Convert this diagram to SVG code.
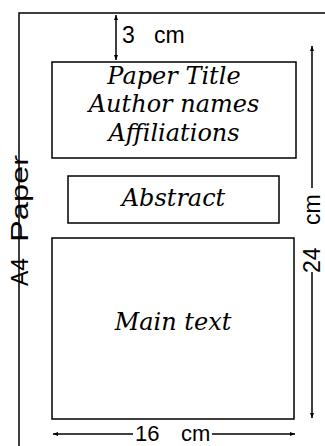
<svg xmlns="http://www.w3.org/2000/svg" width="325" height="446" viewBox="0 0 325 446">
<defs>
<marker id="ah" viewBox="0 0 10 10" refX="10" refY="5" markerWidth="5" markerHeight="5" orient="auto-start-reverse" markerUnits="userSpaceOnUse">
<path d="M0,1 L10,5 L0,9 Z" fill="#000"/>
</marker>
<style>
.ln{fill:none;stroke:#000;stroke-width:1.5}
.box{fill:#fff;stroke:#000;stroke-width:1.5}
.ser{font-family:"DejaVu Serif",serif;font-style:italic;font-size:24px;fill:#000;text-anchor:middle}
.san{font-family:"Liberation Sans",Arial,sans-serif;font-size:23px;fill:#000}
</style>
</defs>
<g id="page">
<path class="ln" d="M19,446 V13 H325"/>
<text class="san" transform="translate(28,286) rotate(-90)"><tspan x="0">A4</tspan><tspan x="44" textLength="87" lengthAdjust="spacingAndGlyphs">Paper</tspan></text>
</g>
<g id="title">
<rect class="box" x="52" y="62" width="244" height="96"/>
<text class="ser" x="174" y="84">Paper Title</text>
<text class="ser" x="174" y="112">Author names</text>
<text class="ser" x="174" y="141">Affiliations</text>
</g>
<g id="abstract">
<rect class="box" x="68" y="176" width="211" height="47"/>
<text class="ser" x="173.5" y="206">Abstract</text>
</g>
<g id="main">
<rect class="box" x="52" y="238" width="242" height="181"/>
<text class="ser" x="173" y="330">Main text</text>
</g>
<g id="connectors">
<line class="ln" x1="116" y1="15" x2="116" y2="60" marker-start="url(#ah)" marker-end="url(#ah)"/>
<line class="ln" x1="312" y1="188" x2="312" y2="46" marker-end="url(#ah)"/>
<line class="ln" x1="312" y1="272" x2="312" y2="418" marker-end="url(#ah)"/>
<line class="ln" x1="133" y1="434" x2="53" y2="434" marker-end="url(#ah)"/>
<line class="ln" x1="212" y1="434" x2="295" y2="434" marker-end="url(#ah)"/>
</g>
<g id="labels">
<text class="san" y="43"><tspan x="122">3</tspan><tspan x="154">cm</tspan></text>
<text class="san" transform="translate(320,273) rotate(-90)"><tspan x="0">24</tspan><tspan x="48">cm</tspan></text>
<text class="san" y="441" style="font-size:22px"><tspan x="135">16</tspan><tspan x="181">cm</tspan></text>
</g>
</svg>
